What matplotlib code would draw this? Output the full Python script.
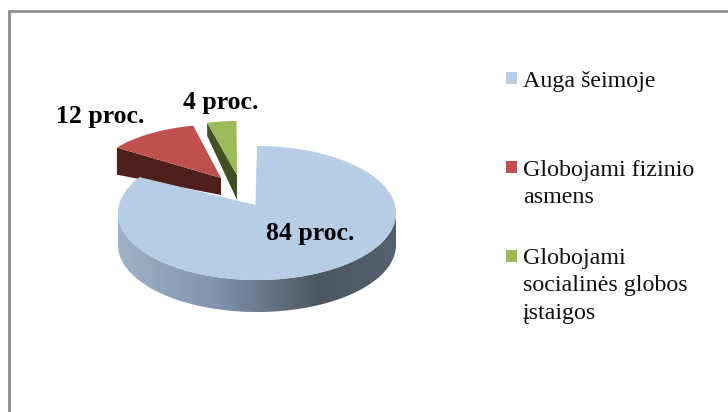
import numpy as np
from matplotlib import pylab as plt
from matplotlib.patches import Polygon, Rectangle

labels = ['Auga šeimoje', 'Globojami fizinio\nasmens', 'Globojami\nsocialinės globos\nįstaigos']
values = [84, 12, 4]
value_text = ['84 proc.', '12 proc.', '4 proc.']
colors = ['#b7cde6', '#c0504d', '#9bbb59']
dark = ['#4c5762', '#4f1f1b', '#424f22']

fig = plt.figure(figsize=(7.28, 4.12), dpi=100)
ax = fig.add_axes([0, 0, 1, 1])

# ellipse of each slice, slices are pulled out and further back so they differ
centers = [(257, 213), (225, 175), (236.5, 178)]
radii = [(139, 67), (128, 51), (118, 57)]
apexes = [(255.5, 205), (221, 178), (237, 175)]
depth = 32

edges = 90 - np.cumsum([0] + values) * 3.6


def arc(i, a0, a1, n=100):
    t = np.radians(np.linspace(a0, a1, n))
    c, r = centers[i], radii[i]
    return np.column_stack([c[0] + r[0] * np.cos(t), c[1] - r[1] * np.sin(t)])


# side of the big slice, front rim only, with gradient
rim = arc(0, 0, -180)
rim_poly = np.vstack([rim, (rim + [0, depth])[::-1]])
clip = Polygon(rim_poly, closed=True, fc='none', ec='none')
ax.add_patch(clip)
grad = np.array([[0, 0.62, 0.70, 0.78], [0.35, 0.50, 0.58, 0.68], [0.72, 0.30, 0.34, 0.38],
                 [1, 0.33, 0.38, 0.43]])
xs = np.linspace(0, 1, 256)
img = np.column_stack([np.interp(xs, grad[:, 0], grad[:, i]) for i in (1, 2, 3)])[None, :, :]
im = ax.imshow(img, extent=(centers[0][0] - radii[0][0], centers[0][0] + radii[0][0], 412, 0),
               aspect='auto', zorder=1)
im.set_clip_path(clip)
ax.set_xlim(0, 728)
ax.set_ylim(412, 0)
ax.axis('off')

# red slice, cut face then top
ac = np.array(apexes[1])
red = arc(1, edges[1], edges[2])
ax.add_patch(Polygon([red[0], ac, ac + [0, 17], red[0] + [0, 27]], fc=dark[1], ec='none', zorder=1))
ax.add_patch(Polygon(np.vstack([[ac], red]), fc=colors[1], ec='none', zorder=2))

# green slice
ac = np.array(apexes[2])
gr = arc(2, edges[2], edges[3])
ax.add_patch(Polygon([gr[0], ac, ac + [0, 25], gr[0] + [0, 13]], fc=dark[2], ec='none', zorder=1))
ax.add_patch(Polygon(np.vstack([[ac], gr]), fc=colors[2], ec='none', zorder=2))

# big slice top, goes clockwise from 12 o'clock
big = arc(0, edges[0], edges[1], 300)
ax.add_patch(Polygon(np.vstack([[apexes[0]], big]), fc=colors[0], ec='none', zorder=3))

label_pos = [(310, 233), (100, 116), (221, 102)]
for s, p in zip(value_text, label_pos):
    ax.text(p[0], p[1], s, family='Liberation Serif', fontweight='bold', fontsize=18.5,
            ha='center', va='center', color='black', zorder=5)

leg_y = [78, 166.5, 256]
text_y = [83, 172, 260]
for lab, c, y, ty in zip(labels, colors, leg_y, text_y):
    ax.add_patch(Rectangle((506, y - 6), 11, 12, fc=c, ec='none'))
    ax.text(523, ty - 12, lab, family='Liberation Serif', fontsize=17.3, va='top', ha='left',
            linespacing=1.4, color='#111111')

# outer frame, only what is visible of the chart border
ax.plot([8.6, 8.6, 728], [412, 11.3, 11.3], color='#8c8c8c', lw=2, solid_joinstyle='miter', clip_on=False)

plt.savefig('out.png', dpi=100)
